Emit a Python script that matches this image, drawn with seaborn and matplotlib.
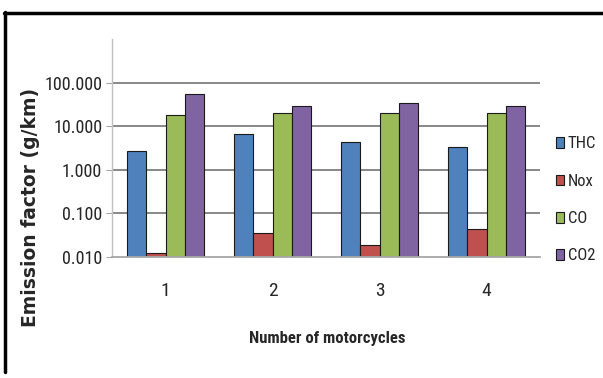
import matplotlib
matplotlib.use("Agg")
import matplotlib.pyplot as plt
from matplotlib import font_manager
from matplotlib.font_manager import FontProperties
from matplotlib.patches import Patch
from matplotlib.lines import Line2D
import seaborn as sns
import pandas as pd

categories = ["1", "2", "3", "4"]
series = ["THC", "Nox", "CO", "CO2"]
thc = [2.75, 6.5, 4.3, 3.4]
nox = [0.0122, 0.0355, 0.019, 0.045]
co = [17.7, 20.4, 20.4, 20.4]
co2 = [56.0, 28.5, 34.7, 28.5]
ytick_values = [0.01, 0.1, 1, 10, 100]
colors = ["#4F81BD", "#C0504D", "#9BBB59", "#8064A2"]

rows = []
for name, vals in zip(series, [thc, nox, co, co2]):
    for c, v in zip(categories, vals):
        rows.append({"cat": c, "series": name, "value": v})
df = pd.DataFrame(rows)

sns.set_style("white")
plt.rcParams["font.family"] = ["DejaVu Sans"]


def find_narrow(bold):
    cands = []
    for f in font_manager.fontManager.ttflist:
        nm = f.name.lower()
        st = str(f.stretch).lower()
        fn = f.fname.lower()
        narrowish = ("narrow" in nm or "condensed" in nm or "condensed" in st
                     or "narrow" in fn or "condensed" in fn)
        if not narrowish or f.style != "normal":
            continue
        w = f.weight if isinstance(f.weight, int) else (700 if f.weight == "bold" else 400)
        if (w >= 600) != bold:
            continue
        if "liberation sans narrow" in nm:
            score = 3
        elif "condensed" in fn and "semi" not in fn:
            score = 2
        else:
            score = 1
        cands.append((score, f.fname))
    if cands:
        cands.sort(reverse=True)
        return FontProperties(fname=cands[0][1])
    return None


fp_reg = find_narrow(False)
fp_bold = find_narrow(True)
narrow_found = fp_reg is not None
if fp_reg is None:
    fp_reg = FontProperties(family="Liberation Sans")
if fp_bold is None:
    fp_bold = FontProperties(family="Liberation Sans", weight="bold")

fig = plt.figure(figsize=(6.03, 3.78), dpi=100)
ax = fig.add_axes([112 / 603, 1 - 257 / 378, (540 - 112) / 603, (257 - 39) / 378])

sns.barplot(data=df, x="cat", y="value", hue="series", order=categories,
            hue_order=series, palette=colors, width=0.72, ax=ax,
            edgecolor="#1a1a1a", linewidth=0.8, legend=False, saturation=1,
            log_scale=(False, True))

ax.set_yscale("log")
ax.set_ylim(0.01, 1000)
ax.set_xlim(-0.5, 3.5)
ax.set_yticks(ytick_values)
ax.set_yticklabels([f"{v:.3f}" for v in ytick_values])
ax.yaxis.set_minor_locator(matplotlib.ticker.NullLocator())
for v in ytick_values[1:]:
    ax.axhline(v, color="#7f7f7f", lw=1.3, zorder=0)
ax.set_axisbelow(True)

for s in ["top", "right"]:
    ax.spines[s].set_visible(False)
ax.spines["left"].set_color("#c0c0c0")
ax.spines["left"].set_linewidth(1.0)
ax.spines["bottom"].set_color("#a6a6a6")
ax.spines["bottom"].set_linewidth(1.3)
ax.tick_params(axis="y", which="major", length=4, color="#a6a6a6", pad=3, left=True)
ax.tick_params(axis="x", length=0, pad=18)

for lab in ax.get_yticklabels():
    lab.set_fontproperties(fp_reg)
    lab.set_fontsize(13 if narrow_found else 11)
for lab in ax.get_xticklabels():
    lab.set_fontproperties(fp_reg)
    lab.set_fontsize(14 if narrow_found else 13)

ax.set_xlabel("")
ax.set_ylabel("")
fig.text(327 / 603, 1 - 339 / 378, "Number of motorcycles", ha="center", va="center",
         fontproperties=fp_bold, fontsize=12 if narrow_found else 11)
fig.text(31 / 603, 1 - 207 / 378, "Emission factor (g/km)", rotation=90,
         ha="center", va="center", fontsize=13.5, fontweight="bold",
         family="DejaVu Sans")

handles = [Patch(facecolor=c, edgecolor="#1a1a1a", linewidth=0.8) for c in colors]
leg_fp = fp_reg.copy()
leg_fp.set_size(12 if narrow_found else 10.5)
fig.legend(handles, series, loc="center left",
           bbox_to_anchor=(556 / 603, 1 - 200 / 378), frameon=False,
           borderpad=0, borderaxespad=0,
           handlelength=0.5, handleheight=0.6, handletextpad=0.2,
           labelspacing=1.34, prop=leg_fp)

# outer frame (top and left thick lines)
fig.add_artist(Line2D([4 / 603, 1.0], [1 - 13 / 378, 1 - 13 / 378],
                      color="black", lw=2.5, transform=fig.transFigure))
fig.add_artist(Line2D([5 / 603, 5 / 603], [1 - 12 / 378, 1 - 372 / 378],
                      color="black", lw=2.5, transform=fig.transFigure))

fig.savefig("out.png", dpi=100)
